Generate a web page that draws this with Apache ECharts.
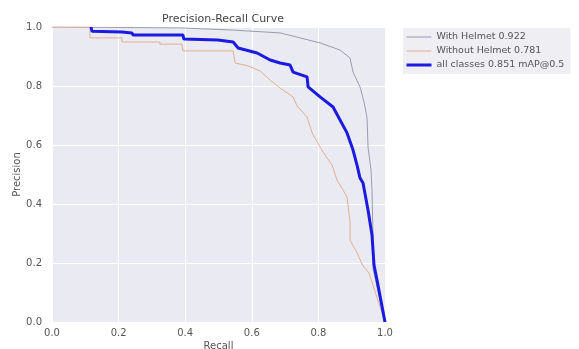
<!DOCTYPE html>
<html>
<head>
<meta charset="utf-8">
<script src="https://cdn.jsdelivr.net/npm/echarts@6/dist/echarts.min.js"></script>
<style>
html, body { margin: 0; padding: 0; background: #fff; }
#main { width: 579px; height: 349px; }
</style>
</head>
<body>
<div id="main"></div>
<script>
// tick labels
var xTicks = [0, 0.2, 0.4, 0.6, 0.8, 1.0];
var yTicks = [0, 0.2, 0.4, 0.6, 0.8, 1.0];

// [recall, precision]
var withHelmet = [
    [0, 1.0], [0.384, 0.997], [0.535, 0.990], [0.685, 0.980], [0.745, 0.963],
    [0.805, 0.946], [0.865, 0.922], [0.895, 0.895], [0.904, 0.847], [0.925, 0.797],
    [0.937, 0.746], [0.946, 0.692], [0.949, 0.593], [0.958, 0.515], [0.961, 0.447],
    [0.964, 0.288], [0.964, 0.18], [1.0, 0.0]
];
var withoutHelmet = [
    [0, 1.0], [0.114, 1.0], [0.114, 0.963], [0.210, 0.963], [0.210, 0.949], [0.324, 0.949],
    [0.324, 0.942], [0.390, 0.942], [0.393, 0.919], [0.544, 0.919], [0.550, 0.878],
    [0.589, 0.868], [0.625, 0.851], [0.655, 0.820], [0.685, 0.793], [0.724, 0.763],
    [0.736, 0.732], [0.766, 0.695], [0.781, 0.641], [0.814, 0.576], [0.841, 0.532],
    [0.856, 0.481], [0.886, 0.424], [0.895, 0.339], [0.895, 0.278], [0.916, 0.234],
    [0.934, 0.190], [0.952, 0.166], [1.0, 0.0]
];
var allClasses = [
    [0.117, 1.0], [0.120, 0.986], [0.210, 0.983], [0.213, 0.980], [0.240, 0.980],
    [0.243, 0.973], [0.393, 0.973], [0.396, 0.959], [0.498, 0.956], [0.544, 0.949],
    [0.559, 0.929], [0.616, 0.912], [0.655, 0.888], [0.685, 0.878], [0.715, 0.871],
    [0.724, 0.847], [0.766, 0.831], [0.769, 0.797], [0.805, 0.763], [0.844, 0.729],
    [0.865, 0.685], [0.886, 0.641], [0.904, 0.583], [0.916, 0.532], [0.925, 0.488],
    [0.934, 0.471], [0.949, 0.380], [0.961, 0.295], [0.967, 0.193], [0.976, 0.142],
    [1.0, 0.0]
];
var names = ['With Helmet 0.922', 'Without Helmet 0.781', 'all classes 0.851 mAP@0.5'];

var chart = echarts.init(document.getElementById('main'));

var labelStyle = { color: '#555', fontSize: 10, fontFamily: 'DejaVu Sans' };

option = {
    animation: false,
    title: {
        text: 'Precision-Recall Curve',
        left: 218,
        top: 9,
        textAlign: 'center',
        textStyle: { color: '#444', fontSize: 11, fontWeight: 'normal', fontFamily: 'DejaVu Sans' }
    },
    legend: {
        data: [
            { name: names[0], lineStyle: { width: 1 } },
            { name: names[1], lineStyle: { width: 1 } },
            { name: names[2], lineStyle: { width: 3 } }
        ],
        orient: 'vertical',
        left: 403,
        top: 28,
        itemWidth: 25,
        itemHeight: 10,
        itemGap: 4,
        padding: [4, 6, 4, 2],
        backgroundColor: '#eeeef3',
        itemStyle: { opacity: 0 },
        textStyle: { color: '#555', fontSize: 9.5, fontFamily: 'DejaVu Sans' }
    },
    grid: {
        left: 52,
        right: 194,
        top: 27,
        bottom: 27,
        show: true,
        containLabel: false,
        outerBoundsMode: 'none',
        backgroundColor: '#eaeaf2',
        borderWidth: 0
    },
    xAxis: {
        type: 'value',
        min: 0,
        max: 1,
        interval: 0.2,
        name: 'Recall',
        nameLocation: 'middle',
        nameGap: 19,
        nameMoveOverlap: false,
        nameTextStyle: labelStyle,
        axisLine: { show: false },
        axisTick: { show: false },
        axisLabel: Object.assign({ margin: 6, formatter: function (v) { return v.toFixed(1); } }, labelStyle),
        splitLine: { lineStyle: { color: '#fff', width: 1 } }
    },
    yAxis: {
        type: 'value',
        min: 0,
        max: 1,
        interval: 0.2,
        name: 'Precision',
        nameLocation: 'middle',
        nameGap: 30,
        nameMoveOverlap: false,
        nameTextStyle: labelStyle,
        axisLine: { show: false },
        axisTick: { show: false },
        axisLabel: Object.assign({ margin: 10, formatter: function (v) { return v.toFixed(1); } }, labelStyle),
        splitLine: { lineStyle: { color: '#fff', width: 1 } }
    },
    series: [
        {
            name: names[0],
            type: 'line',
            data: withHelmet,
            symbol: 'none',
            lineStyle: { color: '#9a9cb0', width: 1 },
            itemStyle: { color: '#9a9cb0' }
        },
        {
            name: names[1],
            type: 'line',
            data: withoutHelmet,
            symbol: 'none',
            lineStyle: { color: '#e0b090', width: 1 },
            itemStyle: { color: '#e0b090' }
        },
        {
            name: names[2],
            type: 'line',
            data: allClasses,
            symbol: 'none',
            lineStyle: { color: '#1a1ae0', width: 3 },
            itemStyle: { color: '#1a1ae0' }
        }
    ]
};
chart.setOption(option);
</script>
</body>
</html>
